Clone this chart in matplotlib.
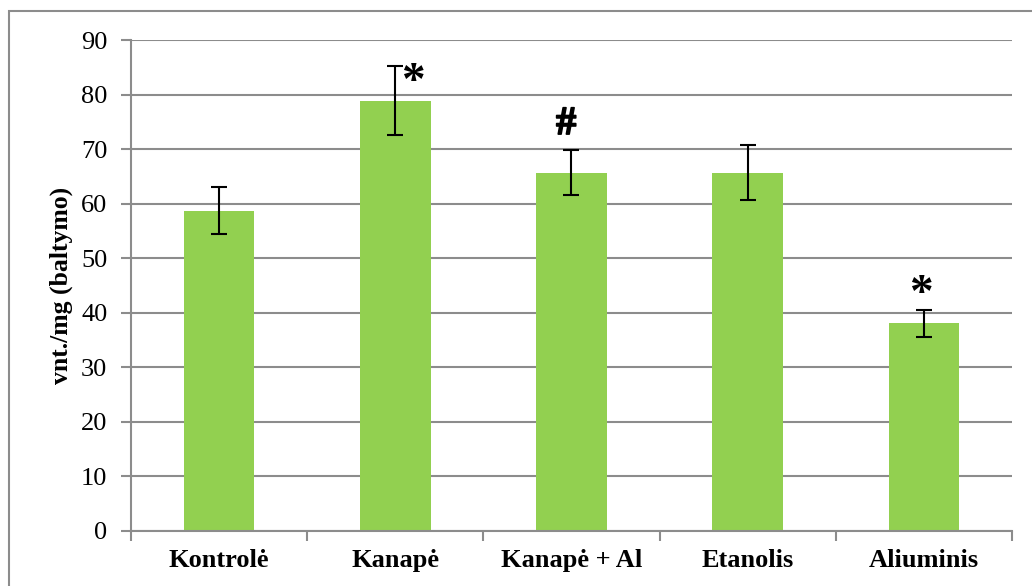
import numpy as np
import matplotlib.pyplot as plt
import matplotlib.patheffects as pe
from matplotlib.patches import Rectangle

plt.rcParams['font.family'] = ['Liberation Serif', 'DejaVu Serif']

groups = ['Kontrolė', 'Kanapė', 'Kanapė + Al', 'Etanolis', 'Aliuminis']
means = np.array([58.7, 78.9, 65.7, 65.7, 38.1])
errors = np.array([4.3, 6.35, 4.2, 5.05, 2.5])
marks = ['', '*', '#', '', '*']

fig = plt.figure(figsize=(10.32, 5.86), dpi=100)
ax = fig.add_axes([0.1269, 0.0939, 0.8537, 0.8378])

# outer chart frame
fig.patches.append(Rectangle((9 / 1032, -0.1), 1.2, 1 - 11 / 586 + 0.1,
                             transform=fig.transFigure, fill=False,
                             edgecolor='#8c8c8c', linewidth=1.5, zorder=0))

x = np.arange(len(groups))
ax.bar(x, means, width=0.4, color='#92d050', zorder=2)
ax.errorbar(x, means, yerr=errors, fmt='none', ecolor='black',
            elinewidth=1.5, capsize=5.5, capthick=1.5, zorder=3)

# significance marks
ax.text(x[1] + 0.1, means[1] + errors[1] - 3.2, marks[1], fontsize=34,
        fontweight='bold', ha='center', va='center')
ax.text(x[2] - 0.03, means[2] + errors[2] + 4.6, marks[2], fontsize=29,
        fontweight='bold', ha='center', va='center',
        path_effects=[pe.withStroke(linewidth=1.2, foreground='black')])
ax.text(x[4] - 0.02, means[4] + errors[4] + 2.6, marks[4], fontsize=34,
        fontweight='bold', ha='center', va='center')

ax.set_xlim(-0.5, 4.5)
ax.set_ylim(0, 90)
ax.set_yticks(np.arange(0, 91, 10))
ax.yaxis.grid(True, color='#8c8c8c', linewidth=1.5, zorder=0)
ax.set_axisbelow(True)

# ticks between categories, names centred under the bars
ax.set_xticks(np.arange(-0.5, 5, 1), minor=False)
ax.set_xticklabels([])
ax.set_xticks(x, minor=True)
ax.set_xticklabels(groups, minor=True, fontsize=19, fontweight='bold')
ax.tick_params(axis='x', which='minor', length=0, pad=13)
ax.tick_params(axis='x', which='major', length=7, width=1.5, color='#8c8c8c')
ax.tick_params(axis='y', length=7, width=1.5, color='#8c8c8c',
               labelsize=19, pad=10)

for side in ['top', 'right']:
    ax.spines[side].set_visible(False)
for side in ['left', 'bottom']:
    ax.spines[side].set_color('#8c8c8c')
    ax.spines[side].set_linewidth(1.5)

ax.set_ylabel('vnt./mg (baltymo)', fontsize=18.5, fontweight='bold', labelpad=6)

fig.savefig('out.png', dpi=100)
